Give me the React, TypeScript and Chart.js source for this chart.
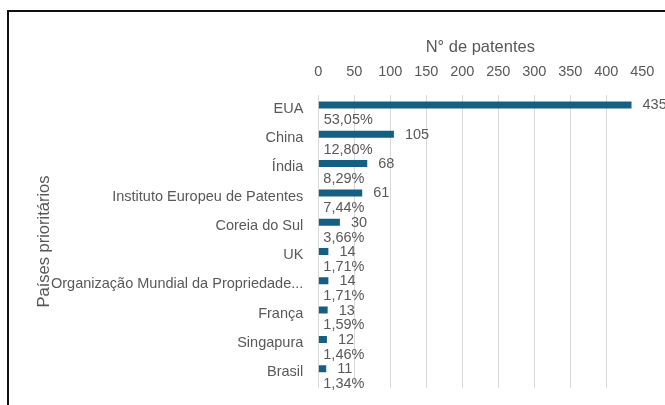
import React, { useEffect, useRef } from "react";
import { Chart, registerables } from "chart.js";

Chart.register(...registerables);

const categories = [
  "EUA",
  "China",
  "Índia",
  "Instituto Europeu de Patentes",
  "Coreia do Sul",
  "UK",
  "Organização Mundial da Propriedade...",
  "França",
  "Singapura",
  "Brasil",
];
const patentCounts = [435, 105, 68, 61, 30, 14, 14, 13, 12, 11];
const shareValues = [0.5305, 0.128, 0.0829, 0.0744, 0.0366, 0.0171, 0.0171, 0.0159, 0.0146, 0.0134];
const shareLabels = ["53,05%", "12,80%", "8,29%", "7,44%", "3,66%", "1,71%", "1,71%", "1,59%", "1,46%", "1,34%"];
const xAxisMin = 0;
const xAxisMax = 450;
const xAxisStep = 50;
const xAxisTitle = "N° de patentes";
const yAxisTitle = "Países prioritários";

const TEXT = "#595959";
const BAR = "#156082";
const FONT = "'Liberation Sans', Arial, sans-serif";

const labelPlugin = {
  id: "barLabels",
  afterDatasetsDraw(chart: any) {
    const ctx = chart.ctx;
    ctx.save();
    ctx.fillStyle = TEXT;
    ctx.font = `14.5px ${FONT}`;
    ctx.textBaseline = "middle";
    ctx.textAlign = "left";
    const m0 = chart.getDatasetMeta(0);
    m0.data.forEach((bar: any, i: number) => {
      ctx.fillText(String(patentCounts[i]), bar.x + 11, bar.y + 0.5);
    });
    const m1 = chart.getDatasetMeta(1);
    m1.data.forEach((bar: any, i: number) => {
      ctx.fillText(shareLabels[i], bar.x + 5, bar.y + 6);
    });
    ctx.restore();
  },
};

export default function App() {
  const ref = useRef<HTMLCanvasElement>(null);
  useEffect(() => {
    if (!ref.current) return;
    const chart = new Chart(ref.current, {
      type: "bar",
      data: {
        labels: categories,
        datasets: [
          {
            data: patentCounts,
            backgroundColor: BAR,
            borderWidth: 0,
            categoryPercentage: 0.635,
            barPercentage: 0.75,
          },
          {
            data: shareValues,
            backgroundColor: "rgba(0,0,0,0)",
            borderWidth: 0,
            categoryPercentage: 0.635,
            barPercentage: 0.75,
          },
        ],
      },
      options: {
        indexAxis: "y",
        responsive: false,
        animation: false,
        devicePixelRatio: 1,
        layout: { padding: { top: 25.1, left: 0, right: 66.7, bottom: 44 } },
        plugins: { legend: { display: false }, tooltip: { enabled: false } },
        scales: {
          x: {
            position: "top",
            min: xAxisMin,
            max: xAxisMax,
            ticks: {
              stepSize: xAxisStep,
              padding: 14.6,
              color: TEXT,
              font: { family: FONT, size: 14.5 },
            },
            grid: {
              drawTicks: false,
              color: (c: any) => (c.tick && c.tick.value === xAxisMax ? "rgba(0,0,0,0)" : "#D9D9D9"),
              lineWidth: 1,
            },
            border: { display: false },
            title: {
              display: true,
              text: xAxisTitle,
              color: TEXT,
              font: { family: FONT, size: 16.5 },
              padding: { top: 0, bottom: -8.5 },
            },
          },
          y: {
            type: "category",
            offset: true,
            grid: { display: false, drawTicks: false },
            border: { display: false },
            ticks: {
              padding: 15,
              labelOffset: -1,
              color: TEXT,
              font: { family: FONT, size: 14.5 },
              autoSkip: false,
            },
            title: {
              display: true,
              text: yAxisTitle,
              color: TEXT,
              font: { family: FONT, size: 16.5 },
              padding: { top: 26, bottom: 0 },
            },
            afterFit: (scale: any) => {
              scale.width = 309.3;
            },
          },
        },
      },
      plugins: [labelPlugin],
    } as any);
    return () => chart.destroy();
  }, []);

  return (
    <div
      style={{
        position: "fixed",
        left: 0,
        top: 0,
        width: 665,
        height: 405,
        overflow: "hidden",
        background: "#fff",
      }}
    >
      <div
        style={{
          position: "absolute",
          left: 7,
          top: 10,
          width: 700,
          height: 420,
          border: "2px solid #111",
          background: "#fff",
        }}
      >
        <canvas ref={ref} width={700} height={420} style={{ display: "block" }} />
      </div>
    </div>
  );
}
